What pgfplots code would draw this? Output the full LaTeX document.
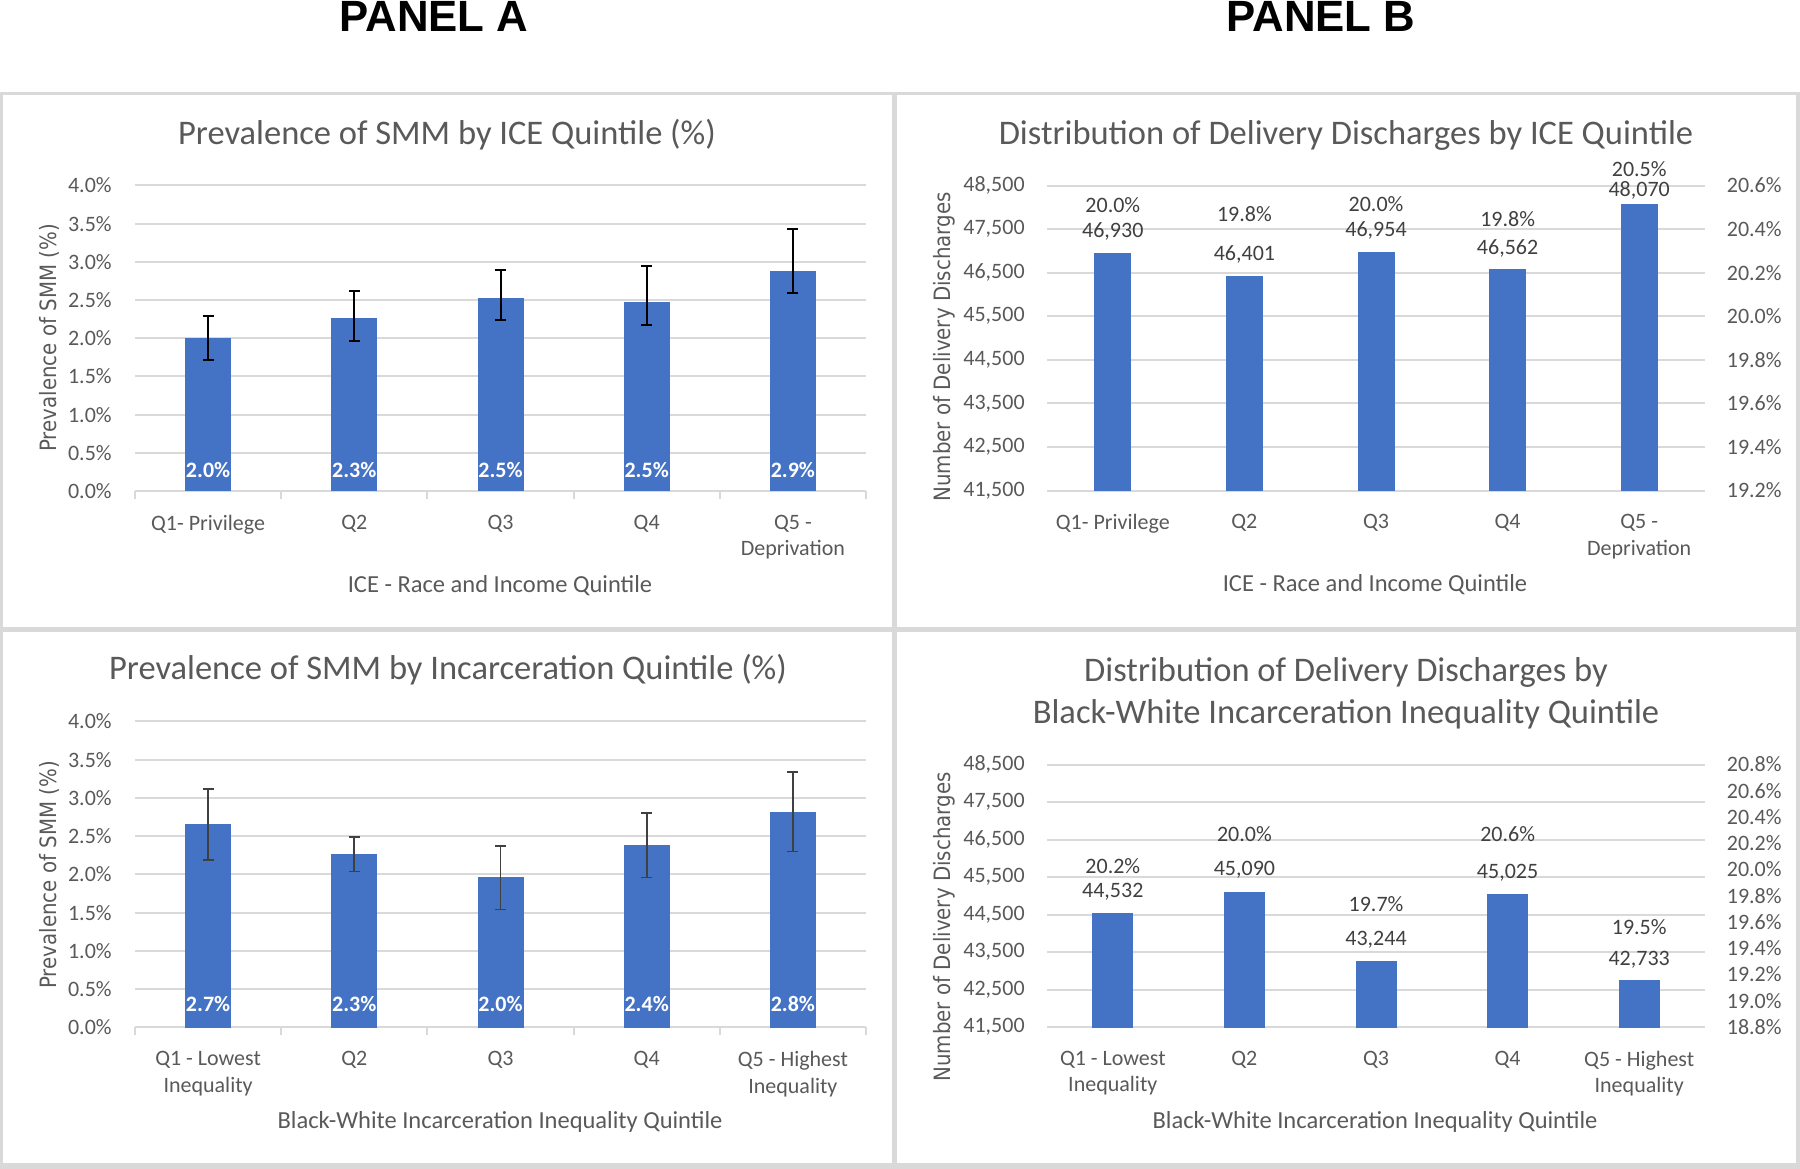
\documentclass[border=0pt]{standalone}
\usepackage{pgfplots}
\pgfplotsset{compat=1.18}
\usepackage{fontspec}
\setmainfont{Carlito}
\newfontfamily\ylabfont[FakeStretch=0.88]{DejaVu Sans}
\newfontfamily\panelfont{Liberation Sans}

\definecolor{barblue}{HTML}{4472C4}
\definecolor{gridgray}{HTML}{D9D9D9}
\definecolor{txtgray}{HTML}{595959}
\definecolor{lblgray}{HTML}{404040}

\newcommand{\ticksize}{\fontsize{8.8}{10.6}\selectfont}
\newcommand{\titlesize}{\fontsize{13.8}{16}\selectfont}
\newcommand{\axtitlesize}{\fontsize{9.8}{12}\selectfont}

\pgfplotsset{
  base/.style={
    scale only axis, xmin=-0.5, xmax=4.5, xtick={0,1,2,3,4},
    axis line style={draw=none}, major tick style={draw=none}, major tick length=0pt,
    ymajorgrids, major grid style={draw=gridgray, line width=0.8pt},
    tick label style={font=\ticksize, text=txtgray},
    xticklabel style={align=center, yshift=-6pt},
    /pgf/number format/assume math mode=true,
    scaled y ticks=false, tick pos=left},
  smm/.style={base, ymin=0, ymax=4, ytick={0,0.5,...,4},
    yticklabel={\pgfmathprintnumber[fixed,fixed zerofill,precision=1]{\tick}\%},
    yticklabel style={xshift=-5.8pt},
    minor xtick={-0.5,0.5,...,4.5}, minor tick length=3.2pt, tick align=outside,
    minor tick style={draw=gridgray, line width=0.8pt},
    clip=false, width=292.4pt},
  dis/.style={base, ymin=41500, ymax=48500, ytick={41500,42500,...,48500},
    yticklabel={\pgfmathprintnumber[fixed,precision=0,1000 sep={,}]{\tick}},
    yticklabel style={xshift=-5.4pt}, width=263.2pt},
  pct/.style={scale only axis, xmin=-0.5, xmax=4.5, hide x axis,
    axis line style={draw=none}, major tick style={draw=none}, major tick length=0pt,
    ytick pos=right, yticklabel pos=right,
    tick label style={font=\ticksize, text=txtgray},
    /pgf/number format/assume math mode=true,
    yticklabel={\pgfmathprintnumber[fixed,fixed zerofill,precision=1]{\tick}\%},
    yticklabel style={xshift=5.2pt}, width=263.2pt},
  lbl/.style={scale only axis, xmin=-0.5, xmax=4.5, ymin=41500, ymax=48500,
    hide axis, clip=false, width=263.2pt},
  inbar/.style={only marks, mark=none, nodes near coords, point meta=explicit symbolic,
    every node near coord/.append style={anchor=center, font=\ticksize\bfseries, text=white}},
  toplbl/.style={only marks, mark=none, nodes near coords, point meta=explicit symbolic,
    every node near coord/.append style={anchor=center, font=\ticksize, text=lblgray}},
}

\begin{document}
\begin{tikzpicture}
\useasboundingbox (0,0) rectangle (720pt,-467.6pt);

% ---------------- Panel A top ----------------
\begin{axis}[smm, at={(54pt,-196.4pt)}, anchor=south west, height=122.2pt,
  xticklabels={{Q1- Privilege},{Q2},{Q3},{Q4},{Q5 -\\Deprivation}}]
\addplot[ybar, bar width=18pt, fill=barblue, draw=barblue,
  error bars/.cd, y dir=both, y explicit,
  error bar style={line width=0.8pt, black},
  error mark options={rotate=90, mark size=2.2pt, line width=0.8pt, black}]
  coordinates {
  (0,2.00) += (0,0.29) -= (0,0.29)
  (1,2.26) += (0,0.36) -= (0,0.30)
  (2,2.52) += (0,0.38) -= (0,0.28)
  (3,2.47) += (0,0.47) -= (0,0.29)
  (4,2.88) += (0,0.55) -= (0,0.29)
  };
\addplot[inbar] coordinates {(0,0.28) [2.0\%] (1,0.28) [2.3\%] (2,0.28) [2.5\%] (3,0.28) [2.5\%] (4,0.28) [2.9\%]};
\end{axis}

% ---------------- Panel B top ----------------
\begin{axis}[dis, at={(418.8pt,-196.2pt)}, anchor=south west, height=122pt,
  xticklabels={{Q1- Privilege},{Q2},{Q3},{Q4},{Q5 -\\Deprivation}}]
\addplot[ybar, bar width=14.4pt, fill=barblue, draw=barblue]
  coordinates {(0,46930) (1,46401) (2,46954) (3,46562) (4,48070)};
\end{axis}
\begin{axis}[pct, at={(418.8pt,-196.2pt)}, anchor=south west, height=122pt,
  ymin=19.2, ymax=20.6, ytick={19.2,19.4,19.6,19.8,20.0,20.2,20.4,20.6}]
\addplot[draw=none] coordinates {(0,20.0)};
\end{axis}
\begin{axis}[lbl, at={(418.8pt,-196.2pt)}, anchor=south west, height=122pt]
\addplot[toplbl] coordinates {(0,48043) [20.0\%] (1,47846) [19.8\%] (2,48067) [20.0\%] (3,47729) [19.8\%] (4,48874) [20.5\%]};
\addplot[toplbl] coordinates {(0,47451) [46{,}930] (1,46914) [46{,}401] (2,47475) [46{,}954] (3,47056) [46{,}562] (4,48383) [48{,}070]};
\end{axis}

% ---------------- Panel A bottom ----------------
\begin{axis}[smm, at={(54pt,-410.96pt)}, anchor=south west, height=122.4pt,
  xticklabels={{Q1 - Lowest\\Inequality},{Q2},{Q3},{Q4},{Q5 - Highest\\Inequality}}]
\addplot[ybar, bar width=18pt, fill=barblue, draw=barblue,
  error bars/.cd, y dir=both, y explicit,
  error bar style={line width=0.65pt, lblgray},
  error mark options={rotate=90, mark size=2.2pt, line width=0.65pt, lblgray}]
  coordinates {
  (0,2.65) += (0,0.47) -= (0,0.46)
  (1,2.26) += (0,0.23) -= (0,0.22)
  (2,1.96) += (0,0.41) -= (0,0.42)
  (3,2.38) += (0,0.42) -= (0,0.42)
  (4,2.81) += (0,0.53) -= (0,0.51)
  };
\addplot[inbar] coordinates {(0,0.30) [2.7\%] (1,0.30) [2.3\%] (2,0.30) [2.0\%] (3,0.30) [2.4\%] (4,0.30) [2.8\%]};
\end{axis}

% ---------------- Panel B bottom ----------------
\begin{axis}[dis, at={(418.8pt,-410.8pt)}, anchor=south west, height=105pt,
  xticklabels={{Q1 - Lowest\\Inequality},{Q2},{Q3},{Q4},{Q5 - Highest\\Inequality}}]
\addplot[ybar, bar width=16pt, fill=barblue, draw=barblue]
  coordinates {(0,44532) (1,45090) (2,43244) (3,45025) (4,42733)};
\end{axis}
\begin{axis}[pct, at={(418.8pt,-410.8pt)}, anchor=south west, height=105pt,
  ymin=18.8, ymax=20.8, ytick={18.8,19.0,19.2,19.4,19.6,19.8,20.0,20.2,20.4,20.6,20.8}]
\addplot[draw=none] coordinates {(0,20.0)};
\end{axis}
\begin{axis}[lbl, at={(418.8pt,-410.8pt)}, anchor=south west, height=105pt]
\addplot[toplbl] coordinates {(0,45779) [20.2\%] (1,46632) [20.0\%] (2,44779) [19.7\%] (3,46632) [20.6\%] (4,44155) [19.5\%]};
\addplot[toplbl] coordinates {(0,45118) [44{,}532] (1,45696) [45{,}090] (2,43835) [43{,}244] (3,45622) [45{,}025] (4,43305) [42{,}733]};
\end{axis}

% ---------------- text and frames ----------------
\begin{scope}[x=0.4pt, y=-0.4pt]
\draw[gridgray, line width=1.2pt] (0,94) -- (1800,94);
\draw[gridgray, line width=2pt] (0,629.5) -- (1800,629.5);
\draw[gridgray, line width=2.4pt] (0,1166) -- (1800,1166);
\draw[gridgray, line width=1.2pt] (1.5,94) -- (1.5,1169);
\draw[gridgray, line width=2pt] (894.5,94) -- (894.5,1169);
\draw[gridgray, line width=1.6pt] (1798,94) -- (1798,1169);

\node[anchor=base, font=\panelfont\bfseries\fontsize{17.5}{20}\selectfont] at (434,32) {PANEL A};
\node[anchor=base, font=\panelfont\bfseries\fontsize{17.5}{20}\selectfont] at (1321,32) {PANEL B};

\node[anchor=base, font=\titlesize, text=txtgray] at (447,145) {Prevalence of SMM by ICE Quintile (\%)};
\node[anchor=base, font=\titlesize, text=txtgray] at (1346,144.4) {Distribution of Delivery Discharges by ICE Quintile};
\node[anchor=base, font=\titlesize, text=txtgray] at (448,679.8) {Prevalence of SMM by Incarceration Quintile (\%)};
\node[anchor=base, font=\titlesize, text=txtgray] at (1346,681.6) {Distribution of Delivery Discharges by};
\node[anchor=base, font=\titlesize, text=txtgray] at (1346,723.5) {Black-White Incarceration Inequality Quintile};

\node[anchor=base, font=\axtitlesize, text=txtgray] at (500,593) {ICE - Race and Income Quintile};
\node[anchor=base, font=\axtitlesize, text=txtgray] at (1375,592) {ICE - Race and Income Quintile};
\node[anchor=base, font=\axtitlesize, text=txtgray] at (500,1128.5) {Black-White Incarceration Inequality Quintile};
\node[anchor=base, font=\axtitlesize, text=txtgray] at (1375,1129) {Black-White Incarceration Inequality Quintile};

\node[rotate=90, font=\ylabfont\fontsize{9}{11}\selectfont, text=txtgray] at (49,338) {Prevalence of SMM (\%)};
\node[rotate=90, font=\ylabfont\fontsize{9}{11}\selectfont, text=txtgray] at (49,875) {Prevalence of SMM (\%)};
\node[rotate=90, font=\ylabfont\fontsize{9}{11}\selectfont, text=txtgray] at (944,347) {Number of Delivery Discharges};
\node[rotate=90, font=\ylabfont\fontsize{9}{11}\selectfont, text=txtgray] at (944,927) {Number of Delivery Discharges};
\end{scope}
\end{tikzpicture}
\end{document}
